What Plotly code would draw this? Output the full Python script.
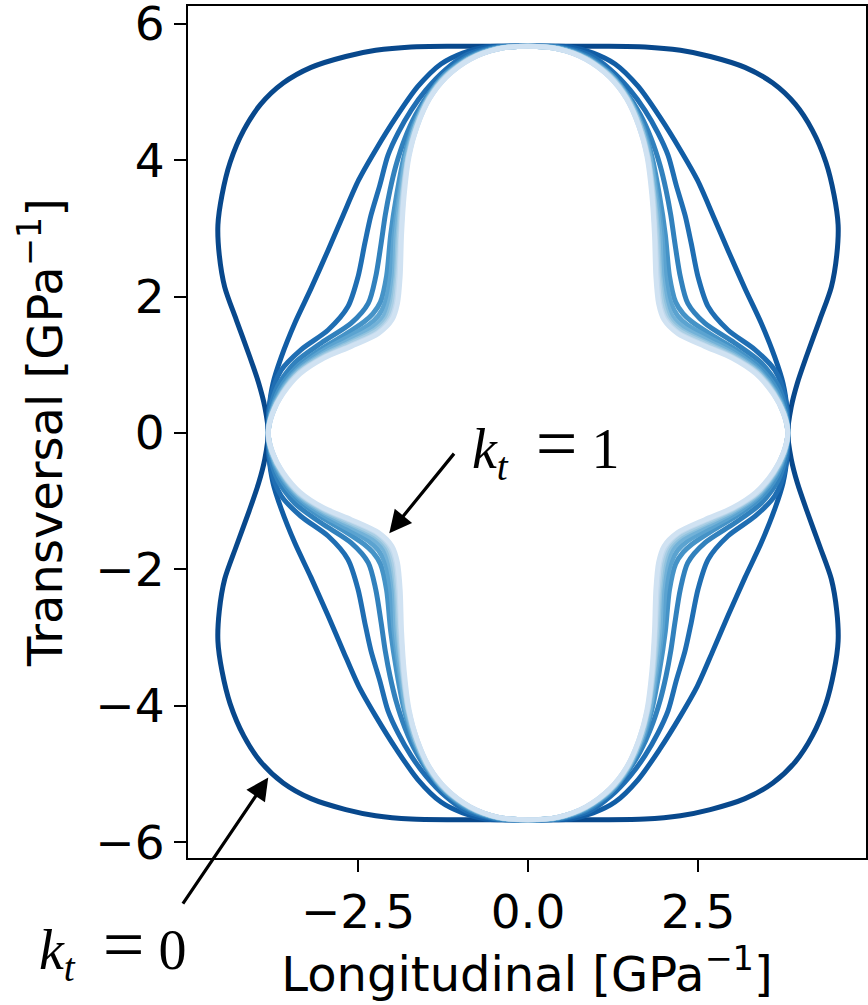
import plotly.graph_objects as go

# Transverse coupling factor of each closed compliance curve
kt_values = [0.0, 0.1, 0.2, 0.3, 0.4, 0.5, 0.6, 0.7, 0.8, 0.9, 1.0]

# Line colours (Blues, dark for k_t = 0 to light for k_t = 1)
line_colors = ["#08488c", "#115da5", "#1f6eb3", "#3181bd", "#4593c7",
               "#5ba3d0", "#73b2d8", "#90c2de", "#a9cee4", "#c1d9ed", "#d0e2f2"]

# First-quadrant branch of every curve, from the top (x = 0) to the side (y = 0).
# The full curves are symmetric about both axes.
x_k00 = [0.00, 1.06, 1.72, 2.24, 2.68, 3.19, 3.60, 3.93, 4.18, 4.38, 4.50, 4.56, 4.54, 4.46, 4.29, 4.10, 3.96, 3.87, 3.82]
y_k00 = [5.67, 5.67, 5.66, 5.61, 5.52, 5.36, 5.13, 4.82, 4.44, 3.97, 3.49, 3.05, 2.61, 2.14, 1.66, 1.14, 0.73, 0.38, 0.00]

x_k01 = [0.00, 0.40, 0.63, 0.96, 1.28, 1.62, 1.94, 2.24, 2.49, 2.72, 2.94, 3.19, 3.43, 3.63, 3.75, 3.81, 3.82]
y_k01 = [5.67, 5.67, 5.66, 5.57, 5.41, 5.08, 4.63, 4.15, 3.71, 3.19, 2.68, 2.12, 1.61, 1.11, 0.73, 0.34, 0.00]

x_k02 = [0.00, 0.47, 0.91, 1.22, 1.50, 1.72, 1.91, 2.06, 2.18, 2.31, 2.40, 2.50, 2.65, 2.94, 3.34, 3.63, 3.78, 3.82]
y_k02 = [5.67, 5.66, 5.54, 5.32, 5.03, 4.73, 4.40, 4.07, 3.63, 3.19, 2.78, 2.29, 1.85, 1.51, 1.22, 0.92, 0.53, 0.00]

x_k03 = [0.00, 0.44, 0.88, 1.18, 1.44, 1.65, 1.81, 1.94, 2.03, 2.10, 2.16, 2.24, 2.35, 2.60, 3.04, 3.43, 3.68, 3.79, 3.82]
y_k03 = [5.67, 5.66, 5.52, 5.30, 5.00, 4.67, 4.32, 3.93, 3.56, 3.19, 2.78, 2.29, 1.90, 1.61, 1.32, 1.03, 0.69, 0.34, 0.00]

x_k04 = [0.00, 0.45, 0.86, 1.23, 1.48, 1.68, 1.82, 1.93, 2.02, 2.08, 2.17, 2.28, 2.41, 2.71, 3.06, 3.41, 3.66, 3.78, 3.82]
y_k04 = [5.67, 5.64, 5.51, 5.25, 4.92, 4.52, 4.06, 3.50, 2.90, 2.30, 1.92, 1.75, 1.63, 1.43, 1.22, 0.96, 0.63, 0.29, 0.00]

x_k05 = [0.00, 0.45, 0.86, 1.22, 1.47, 1.67, 1.80, 1.89, 1.97, 2.02, 2.10, 2.20, 2.35, 2.68, 3.04, 3.39, 3.64, 3.78, 3.82]
y_k05 = [5.67, 5.64, 5.50, 5.24, 4.92, 4.51, 4.06, 3.50, 2.90, 2.30, 1.91, 1.72, 1.58, 1.39, 1.19, 0.93, 0.61, 0.29, 0.00]

x_k06 = [0.00, 0.45, 0.86, 1.21, 1.47, 1.65, 1.79, 1.87, 1.94, 1.97, 2.04, 2.13, 2.30, 2.65, 3.02, 3.38, 3.63, 3.77, 3.82]
y_k06 = [5.67, 5.64, 5.49, 5.24, 4.91, 4.51, 4.06, 3.50, 2.90, 2.30, 1.91, 1.70, 1.54, 1.35, 1.16, 0.91, 0.60, 0.29, 0.00]

x_k07 = [0.00, 0.45, 0.85, 1.21, 1.46, 1.65, 1.77, 1.85, 1.91, 1.94, 2.00, 2.08, 2.25, 2.63, 3.01, 3.37, 3.62, 3.77, 3.82]
y_k07 = [5.67, 5.63, 5.49, 5.23, 4.91, 4.51, 4.05, 3.50, 2.90, 2.30, 1.90, 1.68, 1.51, 1.32, 1.14, 0.90, 0.59, 0.28, 0.00]

x_k08 = [0.00, 0.45, 0.85, 1.21, 1.46, 1.64, 1.76, 1.84, 1.89, 1.92, 1.97, 2.05, 2.23, 2.62, 3.01, 3.36, 3.61, 3.76, 3.82]
y_k08 = [5.67, 5.63, 5.49, 5.23, 4.90, 4.50, 4.05, 3.50, 2.90, 2.30, 1.90, 1.67, 1.49, 1.30, 1.12, 0.89, 0.59, 0.28, 0.00]

x_k09 = [0.00, 0.45, 0.85, 1.20, 1.45, 1.63, 1.76, 1.83, 1.87, 1.90, 1.94, 2.02, 2.21, 2.61, 3.00, 3.36, 3.61, 3.76, 3.82]
y_k09 = [5.67, 5.63, 5.48, 5.22, 4.90, 4.50, 4.05, 3.50, 2.90, 2.30, 1.90, 1.67, 1.47, 1.28, 1.11, 0.88, 0.58, 0.28, 0.00]

x_k10 = [0.00, 0.45, 0.85, 1.20, 1.45, 1.63, 1.75, 1.82, 1.86, 1.88, 1.92, 2.00, 2.20, 2.60, 3.00, 3.35, 3.60, 3.76, 3.82]
y_k10 = [5.67, 5.63, 5.48, 5.22, 4.90, 4.50, 4.05, 3.50, 2.90, 2.30, 1.90, 1.66, 1.46, 1.27, 1.10, 0.87, 0.58, 0.28, 0.00]

quadrant_x = [x_k00, x_k01, x_k02, x_k03, x_k04, x_k05, x_k06, x_k07, x_k08, x_k09, x_k10]
quadrant_y = [y_k00, y_k01, y_k02, y_k03, y_k04, y_k05, y_k06, y_k07, y_k08, y_k09, y_k10]

# Axis ticks
x_ticks = [-2.5, 0.0, 2.5]
x_tick_text = ["\u22122.5", "0.0", "2.5"]
y_ticks = [-6, -4, -2, 0, 2, 4, 6]
y_tick_text = ["\u22126", "\u22124", "\u22122", "0", "2", "4", "6"]


def closed_curve(qx, qy):
    """Reflect a first-quadrant branch into a closed curve."""
    n = len(qx)
    xs, ys = list(qx), list(qy)
    for i in range(n - 2, -1, -1):      # fourth quadrant
        xs.append(qx[i]); ys.append(-qy[i])
    for i in range(1, n):               # third quadrant
        xs.append(-qx[i]); ys.append(-qy[i])
    for i in range(n - 2, -1, -1):      # second quadrant
        xs.append(-qx[i]); ys.append(qy[i])
    return xs, ys


fig = go.Figure()
for kt, qx, qy, col in zip(kt_values, quadrant_x, quadrant_y, line_colors):
    cx, cy = closed_curve(qx, qy)
    fig.add_trace(go.Scatter(
        x=cx, y=cy, mode="lines", name=f"k_t = {kt:.1f}",
        line=dict(color=col, width=5, shape="spline", smoothing=0.8),
        showlegend=False, hoverinfo="skip",
    ))

font_main = "DejaVu Sans"
math_font = dict(family="Liberation Serif", size=56, color="black")
eq_sign = "<span style='font-size:74px'>=</span>"
kt1_label = "<i>k</i><sub><i>t</i></sub>&nbsp; " + eq_sign + " 1"
kt0_label = "<i>k</i><sub><i>t</i></sub>&nbsp; " + eq_sign + " 0"

fig.add_annotation(x=-2.04, y=-1.47, ax=-1.07, ay=-0.28, xref="x", yref="y",
                   axref="x", ayref="y", text="", showarrow=True,
                   arrowhead=2, arrowsize=1.4, arrowwidth=3.2, arrowcolor="black")
fig.add_annotation(x=-3.82, y=-5.05, ax=-5.09, ay=-6.92, xref="x", yref="y",
                   axref="x", ayref="y", text="", showarrow=True,
                   arrowhead=2, arrowsize=1.4, arrowwidth=3.2, arrowcolor="black")
fig.add_annotation(x=-0.86, y=-0.18, xref="x", yref="y", xanchor="left", yanchor="middle",
                   text=kt1_label, showarrow=False, font=math_font)
fig.add_annotation(x=-0.222, y=-0.103, xref="paper", yref="paper",
                   xanchor="left", yanchor="middle",
                   text=kt0_label, showarrow=False, font=math_font)

axis_common = dict(showline=True, mirror=True, linecolor="black", linewidth=2,
                   ticks="outside", ticklen=12, tickwidth=2, tickcolor="black",
                   showgrid=False, zeroline=False, ticklabeloverflow="allow",
                   automargin=False,
                   tickfont=dict(family=font_main, size=47, color="black"))

fig.update_layout(
    width=868, height=1005,
    margin=dict(l=188, r=2, t=6, b=147),
    paper_bgcolor="white", plot_bgcolor="white",
    xaxis=dict(range=[-5.0, 4.97], tickvals=x_ticks, ticktext=x_tick_text,
               title=dict(text="Longitudinal [GPa<sup>\u22121</sup>]", standoff=16,
                          font=dict(family=font_main, size=48, color="black")),
               **axis_common),
    yaxis=dict(range=[-6.23, 6.26], tickvals=y_ticks, ticktext=y_tick_text,
               title=dict(text="Transversal [GPa<sup>\u22121</sup>]", standoff=18,
                          font=dict(family=font_main, size=48, color="black")),
               **axis_common),
)

fig.write_html("out.html")
